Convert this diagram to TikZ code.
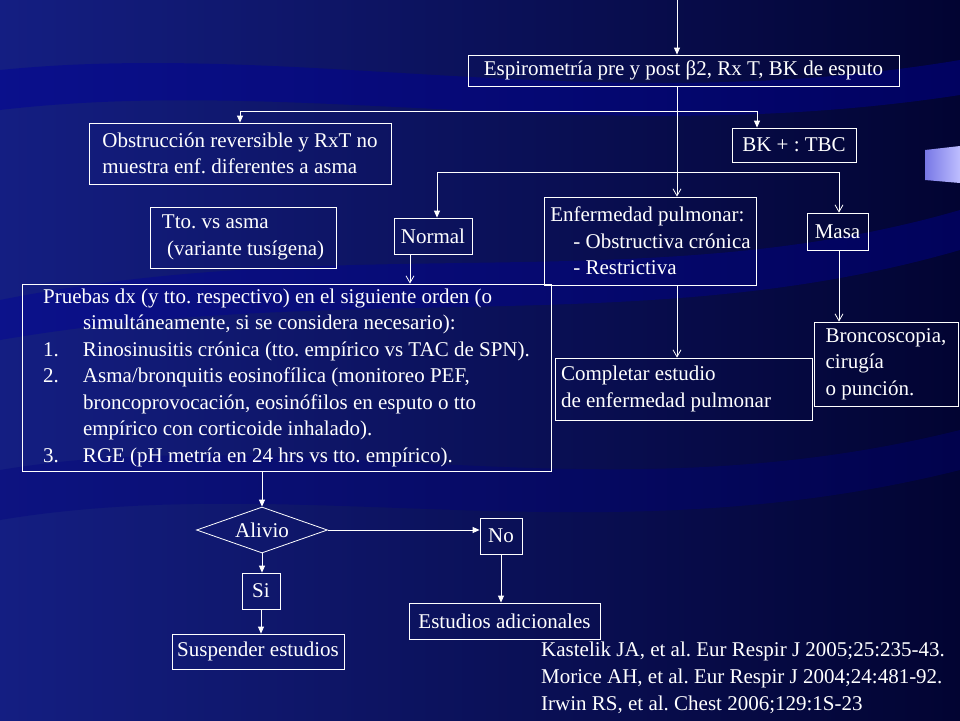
\documentclass[tikz,border=0pt]{standalone}
\usepackage{fontspec}
\setmainfont{Liberation Serif}
\usetikzlibrary{shapes.geometric,arrows.meta}
\begin{document}
\frenchspacing
\begin{tikzpicture}[x=1pt,y=-1pt,
  box/.style={draw=white,line width=0.8pt,text=white,inner xsep=6pt,inner ysep=0pt,
    font=\fontsize{21}{26.5}\selectfont,align=left},
  fl/.style={draw=white,line width=0.8pt,-{Triangle[width=6pt,length=7pt]}},
  op/.style={draw=white,line width=0.8pt,-{Straight Barb[width=8pt,length=7pt]}}]
% background
\useasboundingbox (0,0) rectangle (960,720);
\shade[left color={rgb,255:red,20;green,30;blue,130},right color={rgb,255:red,2;green,4;blue,50}] (0,0) rectangle (960,720);
\fill[blue!60!black,opacity=0.45] (0,70) .. controls (300,40) and (600,120) .. (960,60) -- (960,95) .. controls (600,150) and (300,75) .. (0,110) -- cycle;
\fill[blue!60!black,opacity=0.4] (0,300) .. controls (350,230) and (650,300) .. (960,210) -- (960,250) .. controls (650,340) and (350,280) .. (0,340) -- cycle;
\fill[blue!50!black,opacity=0.35] (0,470) .. controls (300,420) and (600,520) .. (960,430) -- (960,470) .. controls (600,560) and (300,470) .. (0,520) -- cycle;
\shade[left color={rgb,255:red,120;green,120;blue,230},right color={rgb,255:red,190;green,190;blue,255}] (925,150) -- (960,146) -- (960,183) -- (925,180) -- cycle;
% nodes
\node[box,minimum width=431,minimum height=31] (esp) at (683.5,70.5) {Espirometría pre y post β2, Rx T, BK de esputo};
\node[box,minimum width=302,minimum height=61] (obs) at (240,153.5) {Obstrucción reversible y RxT no\\muestra enf. diferentes a asma};
\node[box,minimum width=124,minimum height=34] (bk) at (794,145) {BK + : TBC};
\node[box,minimum width=186,minimum height=61] (tto) at (243,237.5) {Tto. vs asma\\\ (variante tusígena)};
\node[box,minimum width=78,minimum height=36] (nor) at (433,236) {Normal};
\node[box,minimum width=201,minimum height=88] (enf) at (650.5,241) {Enfermedad pulmonar:\\\hspace*{1.1em}- Obstructiva crónica\\\hspace*{1.1em}- Restrictiva};
\node[box,minimum width=61,minimum height=37,inner xsep=4pt] (mas) at (837.5,231.5) {Masa};
\node[box,minimum width=529,minimum height=187,inner xsep=4pt] (pru) at (286.5,377.5) {Pruebas dx (y tto. respectivo) en el siguiente orden (o\\
\hspace*{1.9em}simultáneamente, si se considera necesario):\\
\makebox[1.9em][l]{1.}Rinosinusitis crónica (tto. empírico vs TAC de SPN).\\
\makebox[1.9em][l]{2.}Asma/bronquitis eosinofílica (monitoreo PEF,\\
\hspace*{1.9em}broncoprovocación, eosinófilos en esputo o tto\\
\hspace*{1.9em}empírico con corticoide inhalado).\\
\makebox[1.9em][l]{3.}RGE (pH metría en 24 hrs vs tto. empírico).};
\node[box,minimum width=235,minimum height=62] (com) at (683.5,389) {Completar estudio\hspace*{4.3em}\\de enfermedad pulmonar};
\node[box,minimum width=144,minimum height=84] (bro) at (886,364) {Broncoscopia,\\cirugía\\o punción.};
\node[box,diamond,aspect=2.85,inner xsep=2pt,minimum width=131,minimum height=46] (ali) at (262,530) {Alivio};
\node[box,minimum width=42,minimum height=36,inner xsep=3pt] (no) at (501,536) {No};
\node[box,minimum width=38,minimum height=36,inner xsep=3pt] (si) at (261,591) {Si};
\node[box,minimum width=172,minimum height=35,inner xsep=4pt] (sus) at (258,651.5) {Suspender estudios};
\node[box,minimum width=191,minimum height=36,inner xsep=4pt] (est) at (504.5,621) {Estudios adicionales};
\node[text=white,font=\fontsize{21}{27}\selectfont,align=left,anchor=north west,inner sep=0pt] (ref) at (541,642)
 {Kastelik JA, et al. Eur Respir J 2005;25:235-43.\\Morice AH, et al. Eur Respir J 2004;24:481-92.\\Irwin RS, et al. Chest 2006;129:1S-23};
\coordinate (top) at (677,0);
\coordinate (h1l) at (240,111);
\coordinate (h1r) at (757,111);
\coordinate (h2l) at (437,172);
\coordinate (h2r) at (839,172);
% connectors
\draw[fl] (top) -- (esp.north -| top);
\draw[op] (esp.south -| top) -- (enf.north -| top);
\draw[fl] (h1l) -- (obs.north);
\draw[fl] (h1l) -- (h1r) -- (bk.north -| h1r);
\draw[fl] (h2r) -- (h2l) -- (nor.north -| h2l);
\draw[op] (h2l) -- (h2r) -- (mas.north -| h2r);
\draw[op] (nor.south -| 410,0) -- (pru.north -| 410,0);
\draw[op] (enf.south -| top) -- (com.north -| top);
\draw[op] (mas.south -| h2r) -- (bro.north -| h2r);
\draw[fl] (pru.south -| ali) -- (ali.north);
\draw[fl] (ali.east) -- (ali.east -| no.west);
\draw[fl] (ali.south) -- (si.north -| ali);
\draw[fl] (si.south) -- (sus.north -| si);
\draw[fl] (no.south) -- (est.north -| no);
\end{tikzpicture}
\end{document}
